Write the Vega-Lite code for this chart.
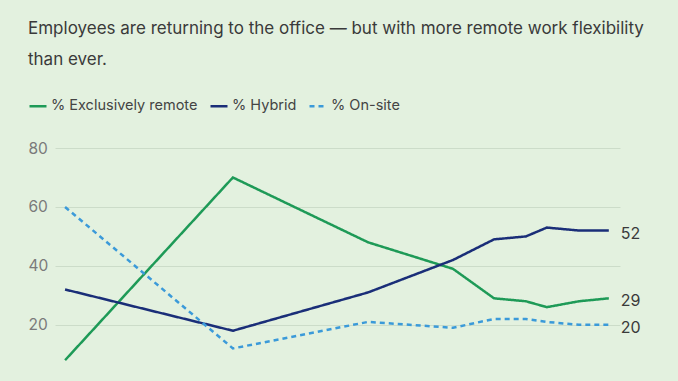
{
  "$schema": "https://vega.github.io/schema/vega-lite/v6.json",
  "width": 565,
  "height": 224,
  "autosize": {"type": "none"},
  "padding": {"left": 55, "top": 148, "right": 58, "bottom": 9},
  "background": "#e3f1df",
  "config": {
    "view": {"stroke": null},
    "font": "Inter"
  },
  "title": {
    "text": ["Employees are returning to the office — but with more remote work flexibility", "than ever."],
    "anchor": "start",
    "frame": "group",
    "dx": -27,
    "offset": 27,
    "fontSize": 17,
    "font": "Inter",
    "fontWeight": "normal",
    "color": "#3a3a3a",
    "lineHeight": 31
  },
  "data": {
    "values": [
      {"date": "2019-10-01", "series": "% Exclusively remote", "value": 8},
      {"date": "2021-05-24", "series": "% Exclusively remote", "value": 70},
      {"date": "2022-09-20", "series": "% Exclusively remote", "value": 48},
      {"date": "2023-07-21", "series": "% Exclusively remote", "value": 39},
      {"date": "2023-12-15", "series": "% Exclusively remote", "value": 29},
      {"date": "2024-04-07", "series": "% Exclusively remote", "value": 28},
      {"date": "2024-06-21", "series": "% Exclusively remote", "value": 26},
      {"date": "2024-10-14", "series": "% Exclusively remote", "value": 28},
      {"date": "2025-01-29", "series": "% Exclusively remote", "value": 29},
      {"date": "2019-10-01", "series": "% Hybrid", "value": 32},
      {"date": "2021-05-24", "series": "% Hybrid", "value": 18},
      {"date": "2022-09-20", "series": "% Hybrid", "value": 31},
      {"date": "2023-07-21", "series": "% Hybrid", "value": 42},
      {"date": "2023-12-15", "series": "% Hybrid", "value": 49},
      {"date": "2024-04-07", "series": "% Hybrid", "value": 50},
      {"date": "2024-06-21", "series": "% Hybrid", "value": 53},
      {"date": "2024-10-14", "series": "% Hybrid", "value": 52},
      {"date": "2025-01-29", "series": "% Hybrid", "value": 52},
      {"date": "2019-10-01", "series": "% On-site", "value": 60},
      {"date": "2021-05-24", "series": "% On-site", "value": 12},
      {"date": "2022-09-20", "series": "% On-site", "value": 21},
      {"date": "2023-07-21", "series": "% On-site", "value": 19},
      {"date": "2023-12-15", "series": "% On-site", "value": 22},
      {"date": "2024-04-07", "series": "% On-site", "value": 22},
      {"date": "2024-06-21", "series": "% On-site", "value": 21},
      {"date": "2024-10-14", "series": "% On-site", "value": 20},
      {"date": "2025-01-29", "series": "% On-site", "value": 20}
    ]
  },
  "encoding": {
    "x": {
      "field": "date",
      "type": "temporal",
      "scale": {"domain": ["2019-08-26", "2025-03-10"]},
      "axis": null
    },
    "y": {
      "field": "value",
      "type": "quantitative",
      "scale": {"domain": [4, 80], "nice": false, "zero": false},
      "axis": {
        "values": [20, 40, 60, 80],
        "title": null,
        "domain": false,
        "ticks": false,
        "grid": true,
        "gridColor": "#ccdcc9",
        "gridWidth": 1,
        "labelColor": "#7a7a7a",
        "labelFontSize": 15.5,
        "labelFont": "Inter",
        "labelAlign": "left",
        "labelPadding": 27
      }
    }
  },
  "layer": [
    {
      "mark": {"type": "line", "strokeWidth": 2.5},
      "encoding": {
        "color": {
          "field": "series",
          "type": "nominal",
          "scale": {
            "domain": ["% Exclusively remote", "% Hybrid", "% On-site"],
            "range": ["#1e9a57", "#1a2e78", "#3b9ad9"]
          },
          "legend": {
            "orient": "none",
            "legendX": -27,
            "legendY": -52,
            "direction": "horizontal",
            "title": null,
            "symbolType": "stroke",
            "symbolSize": 289,
            "symbolStrokeWidth": 2.5,
            "labelFontSize": 14.5,
            "labelFont": "Inter",
            "labelColor": "#444444",
            "labelOffset": 3,
            "columnPadding": 7
          }
        },
        "strokeDash": {
          "field": "series",
          "type": "nominal",
          "scale": {
            "domain": ["% Exclusively remote", "% Hybrid", "% On-site"],
            "range": [[1, 0], [1, 0], [5, 4]]
          },
          "legend": null
        }
      }
    },
    {
      "transform": [{"filter": "year(datum.date) == 2025"}],
      "mark": {"type": "text", "align": "left", "dx": 12, "dy": 3, "fontSize": 16, "font": "Inter", "color": "#3a3a3a", "baseline": "middle"},
      "encoding": {
        "text": {"field": "value", "type": "quantitative"}
      }
    }
  ]
}
